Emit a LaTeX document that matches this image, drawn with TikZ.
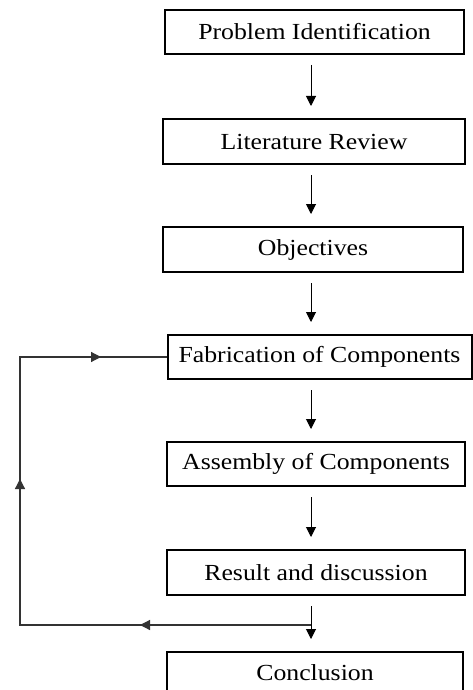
\documentclass[tikz,border=0pt]{standalone}
\usepackage{fontspec}
\setmainfont{Liberation Serif}
\newfontfamily\boxfont[FakeStretch=1.12]{Liberation Serif}
\usetikzlibrary{arrows.meta,calc}
\begin{document}
\begin{tikzpicture}[x=1pt,y=1pt,
  stepbox/.style={draw=black,line width=2pt,inner sep=0pt,minimum height=44pt,
    font=\boxfont\fontsize{23}{27}\selectfont},
  tip/.style={-{Triangle[length=10pt,width=10pt]}},
  arr/.style={line width=1pt,tip},
  fb/.style={line width=1.2pt,draw=black!80}]
\useasboundingbox (0,0) rectangle (473,-690);
\fill[white] (0,0) rectangle (473,-690);
\node[stepbox,minimum width=299pt] (b1) at (314.5,-32) {\raisebox{2pt}{Problem Identification}};
\node[stepbox,minimum width=302pt,minimum height=45pt] (b2) at (314,-141.5) {Literature Review};
\node[stepbox,minimum width=300pt,minimum height=45pt] (b3) at (313,-249.5) {Objectives};
\node[stepbox,minimum width=304pt] (b4) at (319.5,-357) {Fabrication of Components};
\node[stepbox,minimum width=298pt] (b5) at (316,-464) {Assembly of Components};
\node[stepbox,minimum width=298pt,minimum height=45pt] (b6) at (316,-572.5) {Result and discussion};
\node[stepbox,minimum width=296pt,minimum height=45pt] (b7) at (315,-674.5) {\raisebox{4pt}{Conclusion}};
\coordinate (col) at (311,0);
\coordinate (j) at (311,-625);
\coordinate (bl) at (20,-625);
\coordinate (tl) at (20,-357);
\foreach \a/\b in {b1/b2,b2/b3,b3/b4,b4/b5,b5/b6,b6/b7}{
  \draw[arr] ($(col |- \a.south)+(0,-10)$) -- ($(col |- \b.north)+(0,12)$);
}
\draw[fb] (j) -- (bl) -- (tl) -- (b4.west);
\draw[fb,tip] (j) -- (140,-625);
\draw[fb,tip] (bl) -- (20,-479);
\draw[fb,tip] (tl) -- (101,-357);
\end{tikzpicture}
\end{document}
